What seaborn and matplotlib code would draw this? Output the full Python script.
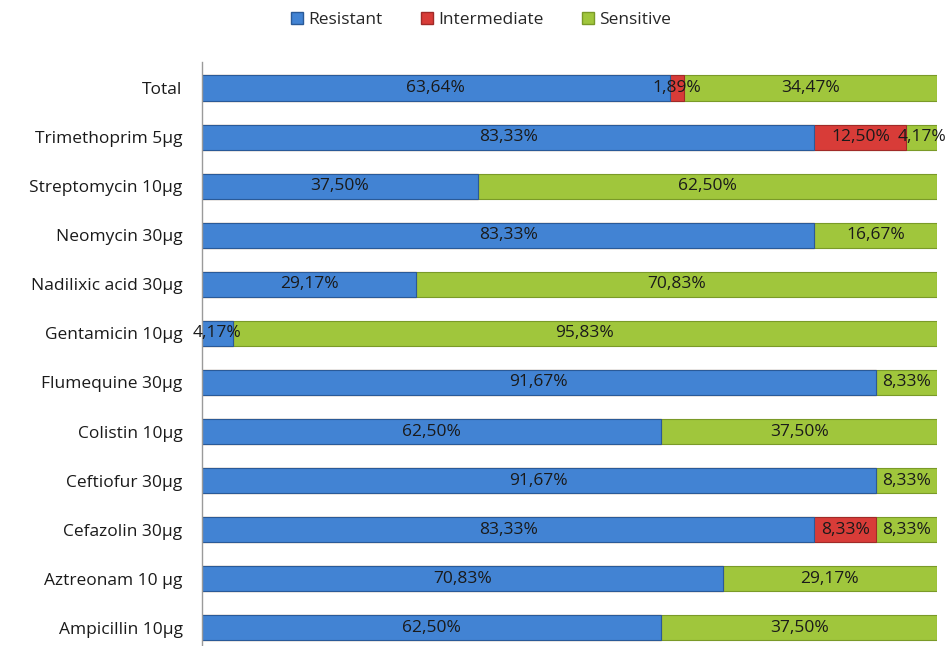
import matplotlib
matplotlib.use("Agg")
import matplotlib.pyplot as plt
import seaborn as sns
import pandas as pd
import numpy as np
from matplotlib.patches import Patch

categories = ["Total", "Trimethoprim 5µg", "Streptomycin 10µg", "Neomycin 30µg",
              "Nadilixic acid 30µg", "Gentamicin 10µg", "Flumequine 30µg",
              "Colistin 10µg", "Ceftiofur 30µg", "Cefazolin 30µg",
              "Aztreonam 10 µg", "Ampicillin 10µg"]
resistant = [63.64, 83.33, 37.50, 83.33, 29.17, 4.17, 91.67, 62.50, 91.67, 83.33, 70.83, 62.50]
intermediate = [1.89, 12.50, 0, 0, 0, 0, 0, 0, 0, 8.33, 0, 0]
sensitive = [34.47, 4.17, 62.50, 16.67, 70.83, 95.83, 8.33, 37.50, 8.33, 8.33, 29.17, 37.50]

sns.set_theme(style="white")
plt.rcParams['font.family'] = ['Open Sans', 'DejaVu Sans']

c_res, c_int, c_sen = "#4283d3", "#d83c38", "#a0c63c"

df = pd.DataFrame({"cat": categories, "R": resistant, "I": intermediate, "S": sensitive})
df["RI"] = df["R"] + df["I"]
df["RIS"] = df["RI"] + df["S"]

fig = plt.figure(figsize=(9.48, 6.46), dpi=100)
ax = fig.add_axes([202/948, 0, (937-202)/948, (646-62)/646])

kw = dict(orient="h", width=0.51, linewidth=0.8, ax=ax, order=categories, saturation=1)
sns.barplot(data=df, x="RIS", y="cat", color=c_sen, edgecolor="#7a9a28", **kw)
sns.barplot(data=df, x="RI", y="cat", color=c_int, edgecolor="#a02a28", **kw)
sns.barplot(data=df, x="R", y="cat", color=c_res, edgecolor="#2a5a98", **kw)
for p in ax.patches:
    p.set_alpha(1)

def fmt(v):
    return f"{v:.2f}".replace(".", ",") + "%"

for i, row in df.iterrows():
    starts = [0, row["R"], row["RI"]]
    vals = [row["R"], row["I"], row["S"]]
    for s, v in zip(starts, vals):
        if v > 0:
            ax.text(s + v / 2, i, fmt(v), ha="center", va="center",
                    fontsize=12.5, color="#1a1a1a")

ax.set_xlim(0, 100)
ax.set_ylim(11.37, -0.53)
ax.set_xlabel("")
ax.set_ylabel("")
ax.set_xticks([])
ax.tick_params(axis="y", labelsize=12.5, colors="#1a1a1a", length=0, pad=14)
for sp in ["top", "right", "bottom"]:
    ax.spines[sp].set_visible(False)
ax.spines["left"].set_color("#9a9a9a")
ax.spines["left"].set_linewidth(1)

handles = [Patch(facecolor=c_res, edgecolor="#2a5a98", label="Resistant"),
           Patch(facecolor=c_int, edgecolor="#a02a28", label="Intermediate"),
           Patch(facecolor=c_sen, edgecolor="#7a9a28", label="Sensitive")]
fig.legend(handles=handles, loc="center", bbox_to_anchor=(481/948, 1 - 20/646),
           ncol=3, frameon=False, fontsize=12.5, handlelength=0.7, handleheight=0.7,
           handletextpad=0.3, columnspacing=2.2)

fig.savefig("out.png", dpi=100)
